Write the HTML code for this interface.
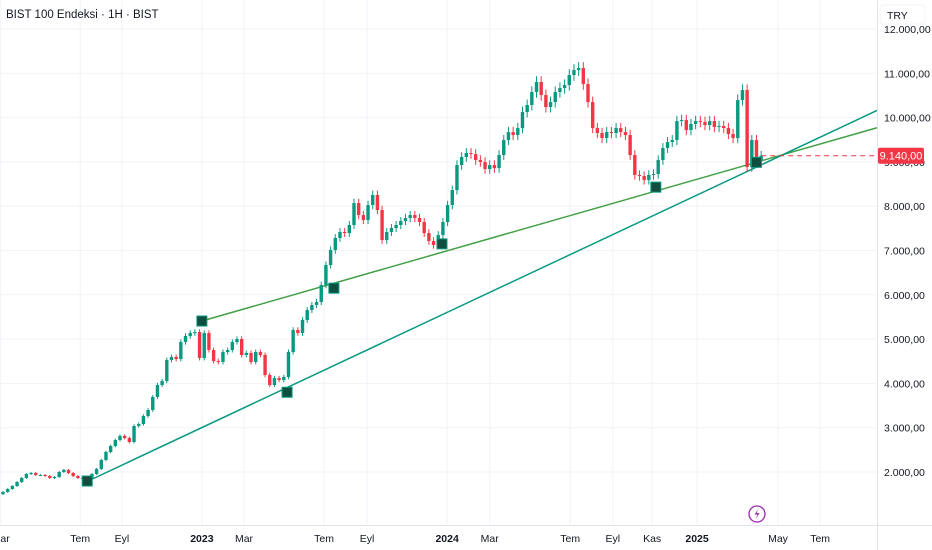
<!DOCTYPE html>
<html><head><meta charset="utf-8"><style>
html,body{margin:0;padding:0;background:#fff;}
svg{display:block;font-family:"Liberation Sans",sans-serif;}
</style></head><body>
<svg id="chart" width="932" height="550" viewBox="0 0 932 550" xmlns="http://www.w3.org/2000/svg">
<g id="grid"></g>
<g id="drawings"></g>
<g id="candles"></g>
<g id="markers"></g>
<line x1="0" y1="525.5" x2="932" y2="525.5" stroke="#e0e3eb"/>
<line x1="877.5" y1="0" x2="877.5" y2="550" stroke="#e0e3eb"/>
<g id="yaxis"></g>
<g id="xaxis"></g>
<text x="6" y="18" font-size="11.5" fill="#131722">BIST 100 Endeksi · 1H · BIST</text>
<rect x="880" y="5" width="45" height="19" rx="3" fill="#fff" stroke="#f0f3fa"/>
<text x="887" y="19" font-size="10.5" fill="#131722">TRY</text>
<g>
<circle cx="757" cy="514" r="8" fill="#fff" stroke="#9c27b0" stroke-width="1.3"/>
<path d="M758.5 508.5 L754.5 514.5 L757.5 514.5 L755.5 519.5 L759.5 513 L756.5 513 Z" fill="#9c27b0"/>
</g>
</svg>
<script>
const closes=[1549,1616,1684,1774,1865,1955,1977,1932,1932,1910,1865,1887,2000,2045,1977,1910,1865,1842,1865,1955,2068,2271,2451,2587,2722,2813,2767,2677,3038,3083,3264,3399,3693,3964,4054,4528,4596,4550,4934,5070,5137,5160,
4573,5137,4754,4505,4483,4708,4754,4934,5002,4641,4686,4483,4708,4641,4189,3964,4121,4076,4144,4708,5205,5137,5431,5656,5769,5837,6221,6672,7011,7281,7417,7394,7575,8071,7800,7688,8026,8252,7913,7236,7417,7507,7575,7665,7733,7800,7733,7643,7394,7214,7124,7349,7643,8026,8365,8929,9110,9200,9177,9042,8997,8839,8929,8861,9155,9493,9674,9606,9764,10126,10284,10577,10803,10509,10238,10351,10577,10667,10735,10961,11073,11118,10757,10351,9764,9652,9538,9674,9652,9764,9674,9606,9155,8704,8681,8591,8704,8726,9042,9313,9448,9493,9922,9945,9719,9855,9922,9900,9832,9922,9787,9810,9764,9629,9538,10396,10622,8884,9493,9042,9140];
const firstOpen=1500;
const yTicks=[2000,3000,4000,5000,6000,7000,8000,9000,10000,11000,12000];
const xLabels=["Mar","Tem","Eyl","2023","Mar","Tem","Eyl","2024","Mar","Tem","Eyl","Kas","2025","May","Tem"];
const xLabelIdx=[-0.5,16.5,25.4,42.5,51.5,68.6,77.8,94.9,104,121.2,130.3,138.7,148.3,165.6,174.6];
const teal=[[18.2,1797],[186.5,10148]];
const green=[[42.5,5408],[186.5,9764]];
const markerIdx=[18,42.5,60.7,70.7,93.8,139.5,161];
const markerPrice=[1797,5408,3800,6150,7150,8430,8990];
const lastPrice=9140;

const NS="http://www.w3.org/2000/svg";
const X=i=>3+i*4.68;
const Y=v=>472-(v-2000)*0.0443;
function el(tag,attrs,parent){const e=document.createElementNS(NS,tag);for(const k in attrs)e.setAttribute(k,attrs[k]);parent.appendChild(e);return e;}
const fmt=v=>{const s=Math.floor(v).toString();return s.replace(/\B(?=(\d{3})+(?!\d))/g,".")+",00";};

const grid=document.getElementById('grid'),ya=document.getElementById('yaxis'),xa=document.getElementById('xaxis');
yTicks.forEach(v=>{
  const g=el('line',{x1:0,x2:877,y1:Y(v),y2:Y(v),stroke:'#f0f3fa'},grid);
  
  
  const t=el('text',{x:884,y:Y(v)+4,'font-size':'10.5',fill:'#131722'},ya);
  t.textContent=fmt(v);
  
  
});
xLabels.forEach((s,k)=>{
  const x=X(xLabelIdx[k]);
  const g=el('line',{x1:x,x2:x,y1:0,y2:525,stroke:'#f0f3fa'},grid);
  
  
  const bold=/^\d/.test(s);
  const t=el('text',{x:x,y:542,'font-size':'10.5','text-anchor':'middle',fill:'#131722','font-weight':bold?'bold':'normal'},xa);
  t.textContent=s;
  
  
});

const dr=document.getElementById('drawings');
function trend(pts,color,name){
  const [a,b]=pts;const slope=(b[1]-a[1])/(b[0]-a[0]);
  const endI=(877-3)/4.68;
  const l=el('line',{x1:X(a[0]),y1:Y(a[1]),x2:X(endI),y2:Y(a[1]+slope*(endI-a[0])),stroke:color,'stroke-width':1.5},dr);
  
  
}
trend(green,'#43a047','green-trend-line');
trend(teal,'#089981','teal-trend-line');

const cg=document.getElementById('candles');
closes.forEach((c,i)=>{
  const o=i===0?firstOpen:closes[i-1];
  const up=c>=o;const col=up?'#089981':'#f23645';
  const hi=Math.max(o,c)*1.012,lo=Math.min(o,c)*0.988;
  const x=X(i);
  const g=el('g',{},cg);
  
  
  el('line',{x1:x,x2:x,y1:Y(hi),y2:Y(lo),stroke:col,'stroke-width':1},g);
  const y1=Y(Math.max(o,c)),y2=Y(Math.min(o,c));
  el('rect',{x:x-1.7,y:y1,width:3.4,height:Math.max(1,y2-y1),fill:col},g);
});

const mg=document.getElementById('markers');
markerIdx.forEach((i,k)=>{
  const r=el('rect',{x:X(i)-5,y:Y(markerPrice[k])-5,width:10,height:10,fill:'#0f4f3f',stroke:'#089981','stroke-width':1},mg);
  
  
});

const lx=X(closes.length-1),ly=Y(lastPrice);
const dl=el('line',{x1:lx,x2:877,y1:ly,y2:ly,stroke:'#f23645','stroke-dasharray':'5,4','stroke-width':1},ya);


const lb=el('rect',{x:878,y:ly-8,width:46,height:16,rx:2,fill:'#f23645'},ya);


const lt=el('text',{x:901,y:ly+4,'font-size':'11','text-anchor':'middle',fill:'#fff'},ya);
lt.textContent=fmt(lastPrice);


</script>
</body></html>
